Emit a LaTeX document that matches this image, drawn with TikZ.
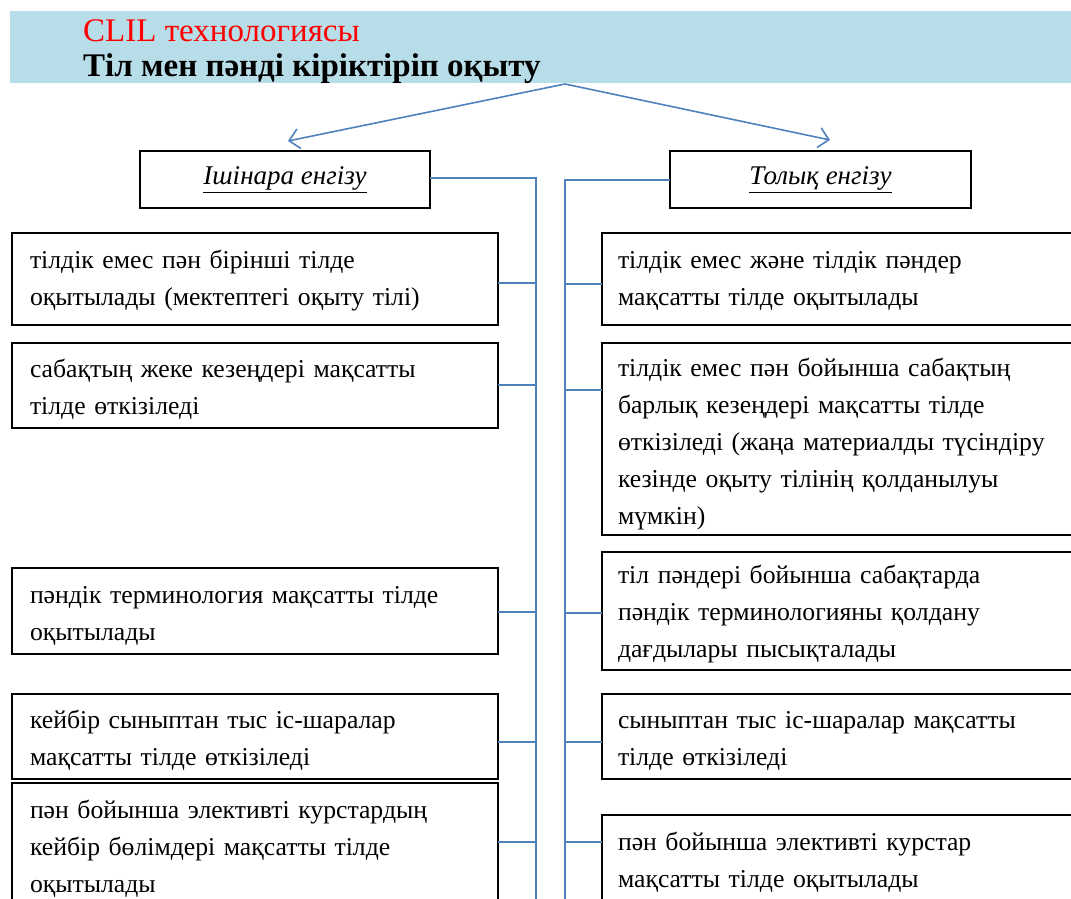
\documentclass[tikz,border=0pt]{standalone}
\usepackage{fontspec}
\setmainfont{Liberation Serif}
\usetikzlibrary{arrows.meta}
\definecolor{hdrblue}{HTML}{B7DDE8}
\definecolor{lnblue}{HTML}{4F81BD}
\definecolor{ttlred}{HTML}{FF0000}
\begin{document}
\begin{tikzpicture}[x=1pt,y=-1pt,
  bodyfont/.style={font=\fontsize{25.7}{37}\selectfont},
  padtop/.style={execute at begin node={\rule{0pt}{#1}}},
  anybox/.style={draw=black, line width=1.5pt, anchor=north west, align=left,
    inner ysep=0pt, outer sep=0pt, bodyfont},
  lbox/.style={anybox, inner xsep=18pt, text width=450pt, minimum width=486pt},
  rbox/.style={anybox, inner xsep=16pt, text width=480pt, minimum width=512pt},
  headbox/.style={draw=black, line width=1.5pt, anchor=north west, outer sep=0pt,
    inner sep=0pt, font=\fontsize{27}{30}\itshape, minimum height=57pt},
  conn/.style={draw=lnblue, line width=1.6pt},
  arr/.style={conn, -{Straight Barb[length=10pt,width=20pt,line width=1.6pt]}},
  ttl/.style={anchor=base west, inner sep=0pt, font=\fontsize{33}{36}\selectfont}
]
\useasboundingbox (0,0) rectangle (1071,899);
% header band
\node[fill=hdrblue, anchor=north west, inner sep=0pt, outer sep=0pt,
  minimum width=1075pt, minimum height=72pt] (hdr) at (10,11) {};
\node[ttl, text=ttlred] (t1) at (83,42) {CLIL технологиясы};
\node[ttl, font=\fontsize{33}{36}\selectfont\bfseries] (t2) at (83,77) {Тіл мен пәнді кіріктіріп оқыту};
% arrows
\coordinate (apex) at (565,84);
\coordinate (tipL) at (288,141);
\coordinate (tipR) at (830,140);
\draw[arr] (apex) -- (tipL);
\draw[arr] (apex) -- (tipR);
% headings
\node[headbox, minimum width=290pt] (I) at (140,151) {\underline{Ішінара енгізу}};
\node[headbox, minimum width=301pt] (T) at (670,151) {\underline{Толық енгізу}};
% left boxes
\node[lbox, padtop=21pt, minimum height=92pt] (L1) at (12,233) {тілдік емес пән бірінші тілде\\оқытылады (мектептегі оқыту тілі)};
\node[lbox, padtop=26pt, minimum height=85pt] (L2) at (12,343) {сабақтың жеке кезеңдері мақсатты\\тілде өткізіледі};
\node[lbox, padtop=26pt, minimum height=86pt] (L3) at (12,568) {пәндік терминология мақсатты тілде\\оқытылады};
\node[lbox, padtop=25pt, minimum height=85pt] (L4) at (12,694) {кейбір сыныптан тыс іс-шаралар\\мақсатты тілде өткізіледі};
\node[lbox, padtop=24pt, minimum height=125pt] (L5) at (12,783) {пән бойынша элективті курстардың\\кейбір бөлімдері мақсатты тілде\\оқытылады};
% right boxes
\node[rbox, padtop=21pt, minimum height=92pt] (R1) at (602,233) {тілдік емес және тілдік пәндер\\мақсатты тілде оқытылады};
\node[rbox, padtop=29pt, minimum height=192pt] (R2) at (602,343) {тілдік емес пән бойынша сабақтың\\барлық кезеңдері мақсатты тілде\\өткізіледі (жаңа материалды түсіндіру\\кезінде оқыту тілінің қолданылуы\\мүмкін)};
\node[rbox, padtop=25pt, minimum height=118pt] (R3) at (602,552) {тіл пәндері бойынша сабақтарда\\пәндік терминологияны қолдану\\дағдылары пысықталады};
\node[rbox, padtop=25pt, minimum height=85pt] (R4) at (602,694) {сыныптан тыс іс-шаралар мақсатты\\тілде өткізіледі};
\node[rbox, padtop=22pt, minimum height=90pt] (R5) at (602,815) {пән бойынша элективті курстар\\мақсатты тілде оқытылады};
% trunks
\coordinate (lbot) at (536,905);
\coordinate (rbot) at (565,905);
\draw[conn] ([yshift=1.5pt]I.east) -| (lbot);
\draw[conn] ([yshift=-0.5pt]T.west) -| (rbot);
% branches left
\draw[conn] ([yshift=-4pt]L1.east) -- ([yshift=-4pt]L1.east -| lbot);
\draw[conn] ([yshift=0.5pt]L2.east) -- ([yshift=0.5pt]L2.east -| lbot);
\draw[conn] ([yshift=-1pt]L3.east) -- ([yshift=-1pt]L3.east -| lbot);
\draw[conn] ([yshift=-5.5pt]L4.east) -- ([yshift=-5.5pt]L4.east -| lbot);
\draw[conn] ([yshift=3.5pt]L5.east) -- ([yshift=3.5pt]L5.east -| lbot);
% branches right
\draw[conn] ([yshift=-5pt]R1.west) -- ([yshift=-5pt]R1.west -| rbot);
\draw[conn] ([yshift=49pt]R2.west) -- ([yshift=49pt]R2.west -| rbot);
\draw[conn] ([yshift=-2pt]R3.west) -- ([yshift=-2pt]R3.west -| rbot);
\draw[conn] ([yshift=-5.5pt]R4.west) -- ([yshift=-5.5pt]R4.west -| rbot);
\draw[conn] ([yshift=18pt]R5.west) -- ([yshift=18pt]R5.west -| rbot);
\end{tikzpicture}
\end{document}
